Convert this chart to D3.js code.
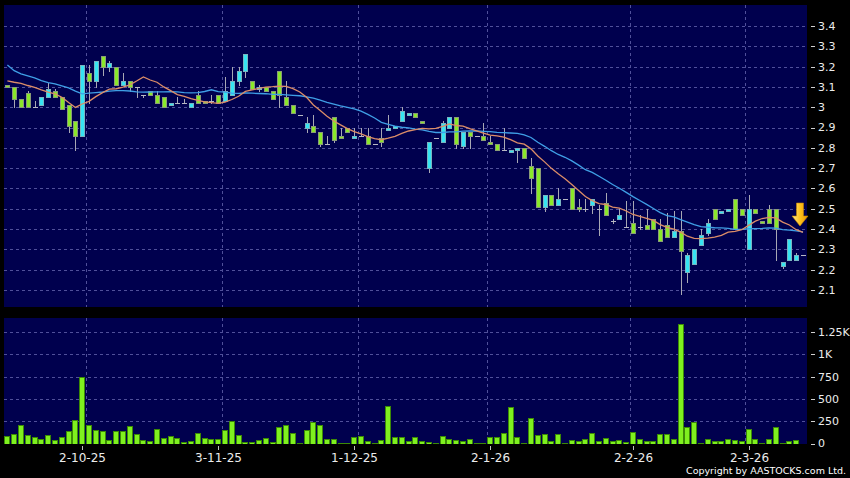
<!DOCTYPE html>
<html><head><meta charset="utf-8">
<script src="https://cdn.jsdelivr.net/npm/d3@7"></script>
<style>html,body{margin:0;padding:0;background:#000;} svg{display:block;}</style>
</head><body>
<svg id="c" width="850" height="478"></svg>
<script>
// ---------- DATA ----------
const openP = [3.11,3.10,3.04,3.07,3.00,3.01,3.05,3.08,3.05,3.01,
2.93,2.86,3.17,3.13,3.25,3.20,3.20,3.11,3.13,3.10,
3.06,3.08,3.06,3.05,3.01,3.02,3.02,3.00,3.06,3.03,
3.03,3.06,3.03,3.06,3.13,3.18,3.13,3.09,3.10,3.08,
3.18,3.05,3.01,2.96,2.90,2.91,2.88,2.82,2.95,2.86,
2.90,2.85,2.86,2.86,2.82,2.85,2.89,2.90,2.93,2.96,
2.97,2.93,2.70,2.85,2.83,2.90,2.95,2.81,2.88,2.86,
2.86,2.83,2.82,2.79,2.78,2.79,2.80,2.71,2.70,2.51,
2.57,2.52,2.55,2.60,2.51,2.50,2.52,2.50,2.53,2.44,
2.45,2.41,2.43,2.41,2.42,2.45,2.40,2.42,2.36,2.39,
2.19,2.23,2.32,2.38,2.50,2.48,2.49,2.55,2.50,2.30,
2.50,2.44,2.50,2.50,2.22,2.25,2.25,2.27];
const highP = [3.11,3.10,3.04,3.08,3.03,3.05,3.12,3.09,3.05,3.01,
2.93,3.21,3.21,3.23,3.25,3.23,3.20,3.17,3.13,3.10,
3.06,3.08,3.08,3.05,3.02,3.05,3.04,3.02,3.08,3.03,
3.06,3.06,3.15,3.20,3.20,3.26,3.13,3.11,3.10,3.08,
3.18,3.13,3.01,2.96,2.95,2.96,2.88,2.86,2.95,2.90,
2.90,2.90,2.90,2.90,2.82,2.90,2.96,2.91,3.00,2.97,
2.97,2.93,2.83,2.85,2.93,2.95,2.95,2.88,2.88,2.86,
2.92,2.86,2.82,2.90,2.79,2.80,2.80,2.75,2.70,2.57,
2.57,2.60,2.55,2.60,2.55,2.55,2.55,2.52,2.58,2.45,
2.50,2.54,2.54,2.47,2.50,2.45,2.45,2.48,2.49,2.49,
2.28,2.30,2.40,2.45,2.50,2.49,2.50,2.55,2.50,2.57,
2.50,2.44,2.52,2.50,2.24,2.35,2.28,2.27];
const lowP = [3.10,3.00,3.00,3.00,3.00,3.01,3.05,3.05,2.99,2.88,
2.79,2.86,3.02,3.10,3.16,3.18,3.11,3.11,3.08,3.05,
3.05,3.06,3.02,3.00,3.01,3.02,3.02,3.00,3.02,3.02,
3.02,3.02,3.03,3.06,3.11,3.15,3.09,3.08,3.08,3.04,
3.00,3.01,2.97,2.96,2.88,2.88,2.81,2.82,2.83,2.85,
2.88,2.85,2.86,2.82,2.82,2.81,2.89,2.90,2.93,2.96,
2.95,2.92,2.68,2.85,2.83,2.90,2.80,2.80,2.80,2.86,
2.84,2.82,2.79,2.79,2.78,2.73,2.75,2.58,2.51,2.49,
2.52,2.52,2.55,2.50,2.49,2.49,2.48,2.37,2.47,2.43,
2.45,2.41,2.38,2.40,2.40,2.40,2.34,2.36,2.36,2.08,
2.14,2.23,2.32,2.37,2.45,2.48,2.49,2.40,2.47,2.30,
2.48,2.43,2.43,2.25,2.21,2.25,2.25,2.27];
const closeP = [3.10,3.04,3.00,3.00,3.00,3.05,3.09,3.05,2.99,2.91,
2.86,3.21,3.13,3.23,3.20,3.22,3.11,3.13,3.10,3.10,
3.06,3.06,3.02,3.00,3.02,3.02,3.02,3.02,3.02,3.02,
3.03,3.02,3.08,3.13,3.18,3.26,3.09,3.10,3.08,3.04,
3.06,3.01,2.97,2.96,2.92,2.88,2.82,2.82,2.84,2.85,
2.88,2.86,2.86,2.82,2.82,2.83,2.90,2.91,2.98,2.97,
2.95,2.92,2.83,2.85,2.92,2.95,2.82,2.88,2.86,2.86,
2.84,2.82,2.79,2.79,2.79,2.80,2.75,2.65,2.51,2.57,
2.52,2.55,2.55,2.50,2.50,2.50,2.55,2.50,2.47,2.44,
2.47,2.41,2.38,2.41,2.40,2.40,2.34,2.36,2.39,2.29,
2.27,2.30,2.37,2.43,2.45,2.49,2.50,2.40,2.47,2.50,
2.48,2.43,2.43,2.40,2.24,2.35,2.27,2.27];
const volume = [83,105,211,94,75,45,94,38,71,143,
263,748,211,150,139,38,143,143,196,105,
38,23,162,60,83,60,15,26,120,64,
53,45,150,252,98,19,19,41,60,15,
188,207,120,4,150,237,207,45,53,8,
11,68,83,26,4,38,421,68,75,30,
68,30,15,5,83,45,41,26,49,8,
4,68,68,116,413,68,3,285,94,105,
26,109,8,38,23,53,120,23,64,30,
41,15,131,53,23,26,101,109,49,1335,
180,236,8,53,30,30,53,41,26,165,
49,8,56,188,4,23,41,0];
const ma10Head = [3.130,3.123,3.118,3.107,3.098,3.085,3.074,3.066,3.049];
const ma20Head = [3.208,3.180,3.164,3.154,3.144,3.131,3.121,3.115,3.105,3.095,
3.079,3.066,3.069,3.072,3.075,3.079,3.082,3.082,3.080];
const xTickIdx = [11,31,51,71,92,109];
const xTickLabels = ['2-10-25','3-11-25','1-12-25','2-1-26','2-2-26','2-3-26'];
const xGridIdx = [12,32,52,71,92,109];
const priceTicks = [2.1,2.2,2.3,2.4,2.5,2.6,2.7,2.8,2.9,3.0,3.1,3.2,3.3,3.4];
const volTicks = [0,250,500,750,1000,1250];
const volTickLabels = ['0','250','500','750','1K','1.25K'];
const arrowPrice = 2.415;

// ---------- DERIVED ----------
const N = closeP.length;
const data = d3.range(N).map(i => ({i, o:openP[i], h:highP[i], l:lowP[i], c:closeP[i], v:volume[i]}));
function ma(n, head){
  return d3.range(N).map(i => i < n-1 ? head[i] : d3.mean(closeP.slice(i-n+1, i+1)));
}
const ma10 = ma(10, ma10Head), ma20 = ma(20, ma20Head);

// ---------- LAYOUT ----------
const L = 4, R = 807;
const mainTop = 5, mainBot = 307, volTop = 318, volBot = 444;
const x = d3.scaleBand().domain(d3.range(N)).range([L, L + 6.8*N]).padding(0);
const cx = i => Math.round(x(i) + x.bandwidth()/2);
const y = d3.scaleLinear().domain([2.1, 3.4]).range([290, 26]);
const yv = d3.scaleLinear().domain([0, 1250]).range([443.5, 332]);

const svg = d3.select('#c');
svg.append('rect').attr('width',850).attr('height',478).attr('fill','#000');

const defs = svg.append('defs');
defs.append('clipPath').attr('id','cm').append('rect').attr('x',L).attr('y',mainTop).attr('width',R-L).attr('height',mainBot-mainTop);
defs.append('clipPath').attr('id','cv').append('rect').attr('x',L).attr('y',volTop).attr('width',R-L).attr('height',volBot-volTop);
const grad = defs.append('linearGradient').attr('id','ag').attr('x1','0').attr('x2','1').attr('y1','0').attr('y2','0');
grad.append('stop').attr('offset','0').attr('stop-color','#ffe98a');
grad.append('stop').attr('offset','0.5').attr('stop-color','#ffc21c');
grad.append('stop').attr('offset','1').attr('stop-color','#e89400');

const BG = '#00004e', GRID = '#50509a';
svg.append('rect').attr('x',L).attr('y',mainTop).attr('width',R-L).attr('height',mainBot-mainTop).attr('fill',BG);
svg.append('rect').attr('x',L).attr('y',volTop).attr('width',R-L).attr('height',volBot-volTop).attr('fill',BG);

// grids
const gMain = svg.append('g').attr('clip-path','url(#cm)');
const gVol = svg.append('g').attr('clip-path','url(#cv)');
gMain.selectAll('line.h').data(priceTicks).join('line')
  .attr('x1',L).attr('x2',R).attr('y1',d=>Math.round(y(d))+0.5).attr('y2',d=>Math.round(y(d))+0.5)
  .attr('stroke',GRID).attr('stroke-dasharray','3,3');
gVol.selectAll('line.h').data(volTicks.slice(1)).join('line')
  .attr('x1',L).attr('x2',R).attr('y1',d=>Math.round(yv(d))+0.5).attr('y2',d=>Math.round(yv(d))+0.5)
  .attr('stroke',GRID).attr('stroke-dasharray','3,3');
[[gMain,mainTop,mainBot],[gVol,volTop,volBot]].forEach(([g,t,b])=>{
  g.selectAll('line.v').data(xGridIdx).join('line')
    .attr('x1',d=>Math.round(x(d))+0.5).attr('x2',d=>Math.round(x(d))+0.5).attr('y1',t).attr('y2',b)
    .attr('stroke',GRID).attr('stroke-dasharray','3,3');
});

// candles
const WICK = '#a8a8b4';
const cg = gMain.append('g');
cg.selectAll('line.w').data(data.filter(d=>d.h>d.l)).join('line')
  .attr('x1',d=>cx(d.i)+0.5).attr('x2',d=>cx(d.i)+0.5)
  .attr('y1',d=>Math.round(y(d.h))).attr('y2',d=>Math.round(y(d.l))+1)
  .attr('stroke',WICK);
const bodies = data.filter(d=>d.o!==d.c);
cg.selectAll('rect.b').data(bodies).join('rect')
  .attr('x',d=>cx(d.i)-1.5).attr('width',4)
  .attr('y',d=>Math.round(y(Math.max(d.o,d.c)))+0.5)
  .attr('height',d=>Math.max(1, Math.round(y(Math.min(d.o,d.c))) - Math.round(y(Math.max(d.o,d.c)))))
  .attr('fill',d=>d.c>d.o ? '#36e4f2' : '#8ae82a')
  .attr('stroke',d=>d.c>d.o ? '#7ab4c0' : '#8a9c78').attr('stroke-width',1);
cg.selectAll('line.d').data(data.filter(d=>d.o===d.c)).join('line')
  .attr('x1',d=>cx(d.i)-2).attr('x2',d=>cx(d.i)+3)
  .attr('y1',d=>Math.round(y(d.c))+0.5).attr('y2',d=>Math.round(y(d.c))+0.5)
  .attr('stroke','#b8b8c4');

// moving averages
const line = arr => d3.line().x((d,i)=>x(i)+x.bandwidth()/2).y(d=>y(d))(arr);
gMain.append('path').attr('d',line(ma20)).attr('fill','none').attr('stroke','#3f9fe6').attr('stroke-width',1.3);
gMain.append('path').attr('d',line(ma10)).attr('fill','none').attr('stroke','#dc8d68').attr('stroke-width',1.3);

// volume bars
gVol.selectAll('rect.v').data(data.filter(d=>d.v>0)).join('rect')
  .attr('x',d=>cx(d.i)-2.5).attr('width',5)
  .attr('y',d=>Math.round(yv(d.v))+0.5)
  .attr('height',d=>Math.max(0.5, Math.round(yv(0)) - Math.round(yv(d.v))))
  .attr('fill','#7ff01f').attr('stroke','#3c8a06').attr('stroke-width',1);

// arrow annotation
const ax = x(N-1) + x.bandwidth()/2 - 3, ay = y(arrowPrice);
svg.append('path')
  .attr('d',`M${ax-3.5},${ay-23}H${ax+3.5}V${ay-10}H${ax+8}L${ax},${ay}L${ax-8},${ay-10}H${ax-3.5}Z`)
  .attr('fill','url(#ag)').attr('stroke','#c88400').attr('stroke-width',0.6);

// right axes
const FONT = 'DejaVu Sans, Verdana, sans-serif';
const ra = svg.append('g').attr('font-family',FONT).attr('font-size',11).attr('fill','#ececec');
ra.selectAll('line.pt').data(priceTicks).join('line')
  .attr('x1',811).attr('x2',815).attr('y1',d=>Math.round(y(d))+0.5).attr('y2',d=>Math.round(y(d))+0.5).attr('stroke','#d0d0d0');
ra.selectAll('text.pt').data(priceTicks).join('text')
  .attr('x',818).attr('y',d=>y(d)).attr('dy','0.36em')
  .text(d=>String(+d.toFixed(1)));
ra.selectAll('line.vt').data(volTicks).join('line')
  .attr('x1',811).attr('x2',815).attr('y1',d=>Math.round(yv(d))+0.5).attr('y2',d=>Math.round(yv(d))+0.5).attr('stroke','#d0d0d0');
ra.selectAll('text.vt').data(volTicks).join('text')
  .attr('x',818).attr('y',d=>yv(d)).attr('dy','0.36em')
  .text((d,i)=>volTickLabels[i]);

// x axis
const xa = svg.append('g').attr('font-family',FONT).attr('font-size',12).attr('fill','#ececec');
xa.selectAll('line').data(xTickIdx).join('line')
  .attr('x1',d=>cx(d)+0.5).attr('x2',d=>cx(d)+0.5).attr('y1',446).attr('y2',450).attr('stroke','#c0c0c0');
xa.selectAll('text').data(xTickIdx).join('text')
  .attr('x',d=>cx(d)+0.5).attr('y',462).attr('text-anchor','middle')
  .text((d,i)=>xTickLabels[i]);

svg.append('text').attr('x',846).attr('y',474).attr('text-anchor','end')
  .attr('font-family',FONT).attr('font-size',9.5).attr('fill','#ffffff')
  .text('Copyright by AASTOCKS.com Ltd.');
</script>
</body></html>
